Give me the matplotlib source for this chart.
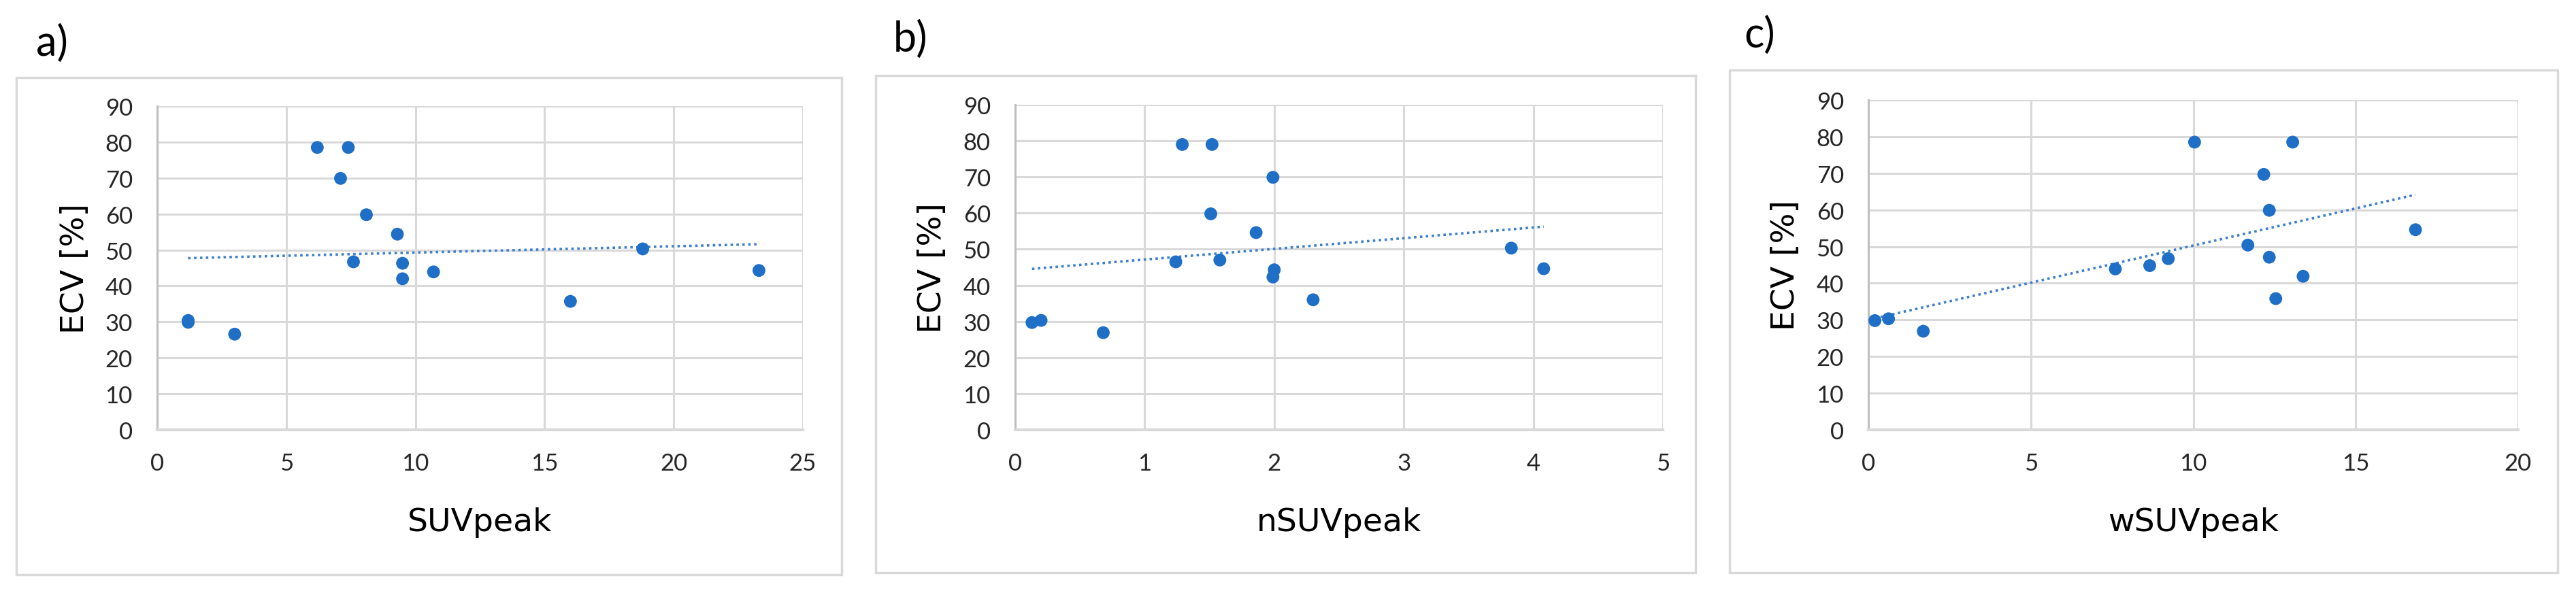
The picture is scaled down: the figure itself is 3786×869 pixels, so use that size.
import numpy as np
import matplotlib
matplotlib.use("Agg")
import matplotlib.pyplot as plt
import matplotlib.patches as patches

# ECV [%] against three uptake measures
suv_peak = [1.2, 1.2, 3.0, 6.2, 7.4, 7.1, 8.1, 9.3, 7.6, 9.5, 9.5, 10.7, 16.0, 18.8, 23.3]
suv_ecv = [29.9, 30.4, 26.6, 78.5, 78.5, 69.9, 59.8, 54.4, 46.7, 46.3, 42.0, 43.9, 35.7, 50.3, 44.3]

nsuv_peak = [0.13, 0.20, 0.68, 1.29, 1.52, 1.99, 1.51, 1.86, 1.24, 1.58, 1.99, 2.00, 2.30, 3.83, 4.08]
nsuv_ecv = [29.7, 30.3, 26.9, 79.0, 79.0, 69.9, 59.8, 54.6, 46.5, 47.0, 42.3, 44.3, 36.0, 50.3, 44.6]

wsuv_peak = [0.2, 0.62, 1.69, 10.04, 13.06, 12.17, 12.34, 16.84, 11.68, 12.34, 13.38, 12.54, 7.6, 8.66, 9.23]
wsuv_ecv = [29.8, 30.3, 26.9, 78.5, 78.5, 69.7, 59.9, 54.6, 50.4, 47.1, 41.9, 35.8, 43.9, 44.8, 46.7]

panel_letters = ["a)", "b)", "c)"]
x_labels = ["SUVpeak", "nSUVpeak", "wSUVpeak"]
x_limits = [25, 5, 20]
x_steps = [5, 1, 5]
y_ticks = list(range(0, 100, 10))

W, H = 3786, 870
BLUE = "#1f6fc6"
GRID = "#d9d9d9"

# plot areas and outer frames in pixels (left, top, right, bottom)
plot_boxes = [(231, 157, 1180, 633), (1492, 155, 2444, 633), (2746, 148, 3701, 633)]
frames = [(24, 115, 1237, 846), (1287, 112, 2492, 843), (2542, 104, 3759, 843)]
letter_pos = [(76, 64), (1338, 58), (2586, 52)]

fig = plt.figure(figsize=(W / 100, H / 100), dpi=100)
fig.patch.set_facecolor("white")

def fx(px):
    return px / W

def fy(py):
    return 1 - py / H

datasets = [(suv_peak, suv_ecv), (nsuv_peak, nsuv_ecv), (wsuv_peak, wsuv_ecv)]

for i in range(3):
    l, t, r, b = frames[i]
    fig.patches.append(patches.Rectangle((fx(l), fy(b)), fx(r - l), (b - t) / H,
                                         transform=fig.transFigure, fill=False,
                                         edgecolor=GRID, linewidth=2.5))
    fig.text(fx(letter_pos[i][0]), fy(letter_pos[i][1]), panel_letters[i],
             ha="center", va="center", fontsize=44, family=["Lato", "DejaVu Sans"])

    l, t, r, b = plot_boxes[i]
    ax = fig.add_axes([fx(l), fy(b), fx(r - l), (b - t) / H])
    xs, ys = datasets[i]
    xs = np.array(xs)
    ys = np.array(ys)

    ax.set_xlim(0, x_limits[i])
    ax.set_ylim(0, 90)
    ax.set_xticks(np.arange(0, x_limits[i] + 0.001, x_steps[i]))
    ax.set_yticks(y_ticks)
    ax.grid(True, color=GRID, linewidth=2.2, zorder=0)
    ax.set_axisbelow(True)
    for side in ["top", "right"]:
        ax.spines[side].set_visible(False)
    ax.spines["left"].set_color("#bfbfbf")
    ax.spines["left"].set_linewidth(2.2)
    ax.spines["bottom"].set_color(GRID)
    ax.spines["bottom"].set_linewidth(3)
    ax.tick_params(length=0, labelsize=25, colors="#262626")
    ax.tick_params(axis="x", pad=24)
    ax.tick_params(axis="y", pad=26)
    for lab in ax.get_xticklabels() + ax.get_yticklabels():
        lab.set_family(["Lato", "DejaVu Sans"])

    # linear trendline over the data range
    k, c0 = np.polyfit(xs, ys, 1)
    tx = np.array([xs.min(), xs.max()])
    ax.plot(tx, k * tx + c0, color="#3d7fcc", linewidth=2.6,
            linestyle=(0, (1, 1.4)), zorder=2)
    ax.scatter(xs, ys, s=185, color=BLUE, edgecolors="none", zorder=3)

    ax.set_xlabel(x_labels[i], fontsize=34, color="#000000")
    ax.set_ylabel("ECV [%]", fontsize=34, color="#000000")
    ax.xaxis.set_label_coords(0.5, -136 / (b - t))
    ax.yaxis.set_label_coords(-121 / (r - l), 0.5)
    ax.xaxis.label.set_va("center")
    ax.yaxis.label.set_va("center")

fig.savefig("out.png", dpi=100, facecolor="white")
